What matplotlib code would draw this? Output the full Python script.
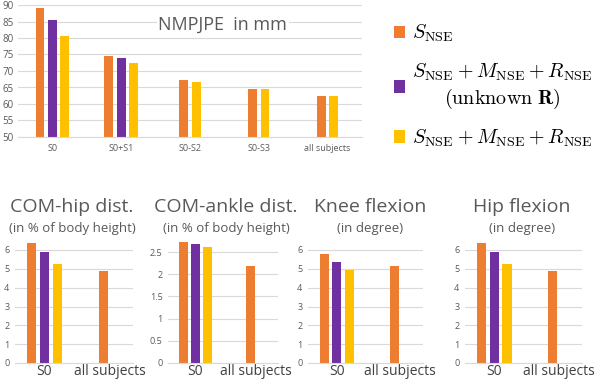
import numpy as np
import matplotlib
matplotlib.use("Agg")
import matplotlib.pyplot as plt

# ---- data ----
top_categories = ["S0", "S0+S1", "S0-S2", "S0-S3", "all subjects"]
top_snse = [89.0, 74.5, 67.4, 64.5, 62.5]
top_unknown_r = [85.5, 74.0, None, None, None]
top_full = [80.5, 72.5, 66.7, 64.5, 62.5]

panel_titles = ["COM-hip dist.", "COM-ankle dist.", "Knee flexion", "Hip flexion"]
panel_units = ["(in % of body height)", "(in % of body height)", "(in degree)", "(in degree)"]
panel_categories = ["S0", "all subjects"]
panel_s0 = [
    [6.35, 5.88, 5.28],
    [2.73, 2.69, 2.62],
    [5.78, 5.37, 4.95],
    [6.35, 5.88, 5.28],
]
panel_all = [4.87, 2.19, 5.16, 4.87]

series_labels = [
    r"$S_{\rm NSE}$",
    r"$S_{\rm NSE} + M_{\rm NSE} + R_{\rm NSE}$" + "\n" + r"$(\mathrm{unknown}\ \mathbf{R})$",
    r"$S_{\rm NSE} + M_{\rm NSE} + R_{\rm NSE}$",
]

# ---- style ----
COLORS = ["#ED7D31", "#7030A0", "#FFC000"]
GRID = "#D9D9D9"
TXT = "#595959"
plt.rcParams["font.family"] = ["Open Sans", "DejaVu Sans"]
plt.rcParams["mathtext.fontset"] = "cm"

W, H = 598, 379
fig = plt.figure(figsize=(W / 100, H / 100), dpi=100)


def px_axes(left, top, right, bottom):
    return fig.add_axes([left / W, 1 - bottom / H, (right - left) / W, (bottom - top) / H])


def style_axes(ax):
    for s in ["top", "right", "left"]:
        ax.spines[s].set_visible(False)
    ax.spines["bottom"].set_color(GRID)
    ax.grid(axis="y", color=GRID, linewidth=0.8)
    ax.set_axisbelow(True)
    ax.tick_params(axis="both", length=0, colors=TXT)


# ---- top chart ----
ax = px_axes(18, 5, 362, 137)
style_axes(ax)
width = 0.13
pitch = 0.18
handles = []
for i, cat in enumerate(top_categories):
    vals = [top_snse[i], top_unknown_r[i], top_full[i]]
    present = [k for k, v in enumerate(vals) if v is not None]
    n = len(present)
    for j, k in enumerate(present):
        off = (j - (n - 1) / 2) * pitch
        b = ax.bar(i + off, vals[k], width, color=COLORS[k], zorder=2)
        if i == 0:
            handles.append(b)
ax.set_ylim(50, 90)
ax.set_xlim(-0.5, 4.5)
ax.set_yticks(np.arange(50, 91, 5))
ax.set_xticks(range(len(top_categories)))
ax.set_xticklabels(top_categories, fontsize=6.5)
ax.tick_params(axis="y", labelsize=7, pad=3)
ax.tick_params(axis="x", pad=5)
ax.text(0.595, 0.85, "NMPJPE  in mm", transform=ax.transAxes, ha="center", va="center",
        fontsize=13, color=TXT, zorder=3,
        bbox=dict(facecolor="white", edgecolor="none", pad=1))

leg = fig.legend(handles, series_labels, loc="upper left", bbox_to_anchor=(386 / W, 1 - 15 / H),
                 frameon=False, fontsize=14.5, handlelength=0.55, handleheight=0.55,
                 handletextpad=0.35, labelspacing=0.85, borderaxespad=0)
leg.get_texts()[1].set_multialignment("center")

# ---- bottom panels ----
boxes = [(15, 133), (168, 278), (308, 423), (465, 582)]
ylims = [6.4, 2.75, 6.4, 6.4]
yticks = [np.arange(0, 7, 1), np.arange(0, 2.51, 0.5), np.arange(0, 7, 1), np.arange(0, 7, 1)]
title_x = [72, 226, 370, 522]
bw = 0.16
bp = 0.22
for p in range(4):
    left, right = boxes[p]
    top = 363 - ylims[p] * (113 / 6 if p != 1 else 111 / 2.5)
    ax = px_axes(left, top, right, 363)
    style_axes(ax)
    for k in range(3):
        ax.bar((k - 1) * bp, panel_s0[p][k], bw, color=COLORS[k], zorder=2)
    ax.bar(1, panel_all[p], bw, color=COLORS[0], zorder=2)
    ax.set_xlim(-0.5, 1.5)
    ax.set_ylim(0, ylims[p])
    ax.set_yticks(yticks[p])
    ax.set_yticklabels([f"{t:g}" for t in yticks[p]])
    ax.tick_params(axis="y", labelsize=6.5, pad=4)
    ax.set_xticks([0, 1.1])
    ax.set_xticklabels(panel_categories, fontsize=10, color="#404040")
    ax.tick_params(axis="x", pad=1)
    fig.text(title_x[p] / W, 1 - 207 / H, panel_titles[p], ha="center", va="center",
             fontsize=14, color=TXT)
    fig.text(title_x[p] / W, 1 - 228 / H, panel_units[p], ha="center", va="center",
             fontsize=9.5, color=TXT)

fig.savefig("out.png", dpi=100)
